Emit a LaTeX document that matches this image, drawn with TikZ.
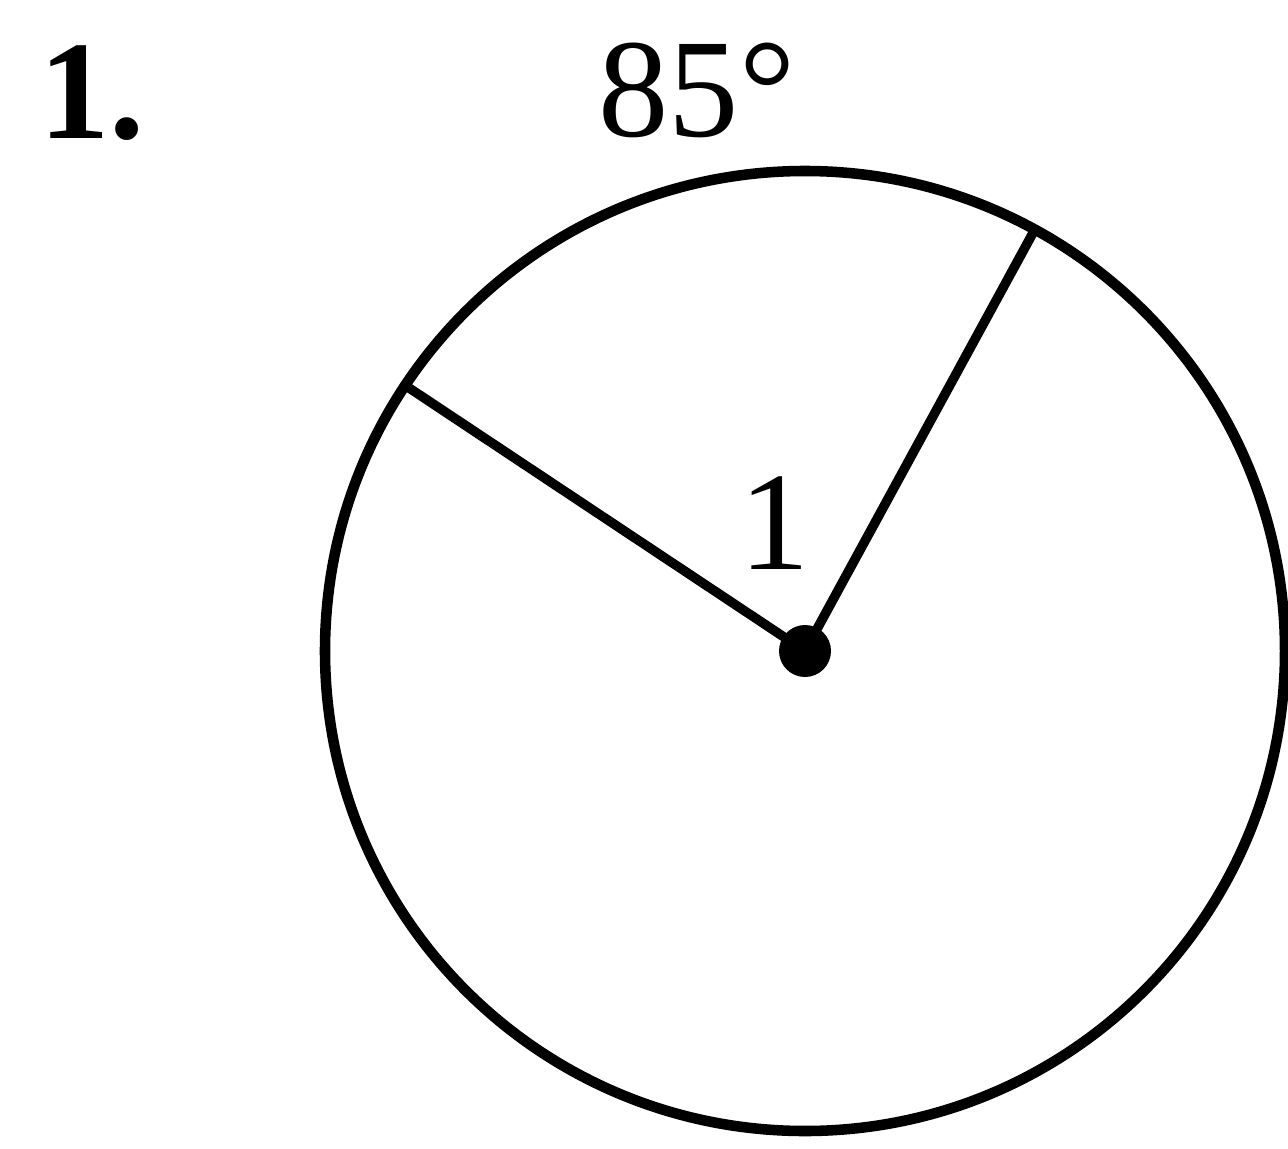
\documentclass[tikz,border=0pt]{standalone}
\usepackage{fontspec}
\setmainfont{Liberation Serif}
\usetikzlibrary{calc}
\begin{document}
\begin{tikzpicture}[x=1cm,y=1cm,
  stroke/.style={line width=3pt,black},
  radius line/.style={line width=2.7pt,black},
  lbl/.style={inner sep=0pt,font=\fontsize{40}{44}\selectfont}]
\useasboundingbox (0,0) rectangle (12.88,11.48);
\coordinate (O) at (8.05,4.97);
\draw[stroke] (O) circle (4.8);
\coordinate (A) at ($(O)+(146.4:4.8)$);
\coordinate (B) at ($(O)+(61.4:4.8)$);
\draw[radius line] (O) -- (A);
\draw[radius line] (O) -- (B);
\fill (O) circle (0.26);
\node[lbl,font=\fontsize{40}{44}\selectfont\bfseries] (num) at (0.92,10.55) {1.};
\node[lbl] (arc) at (6.97,10.58) {85°};
\node[lbl] (ang) at (7.75,6.25) {1};
\end{tikzpicture}
\end{document}
